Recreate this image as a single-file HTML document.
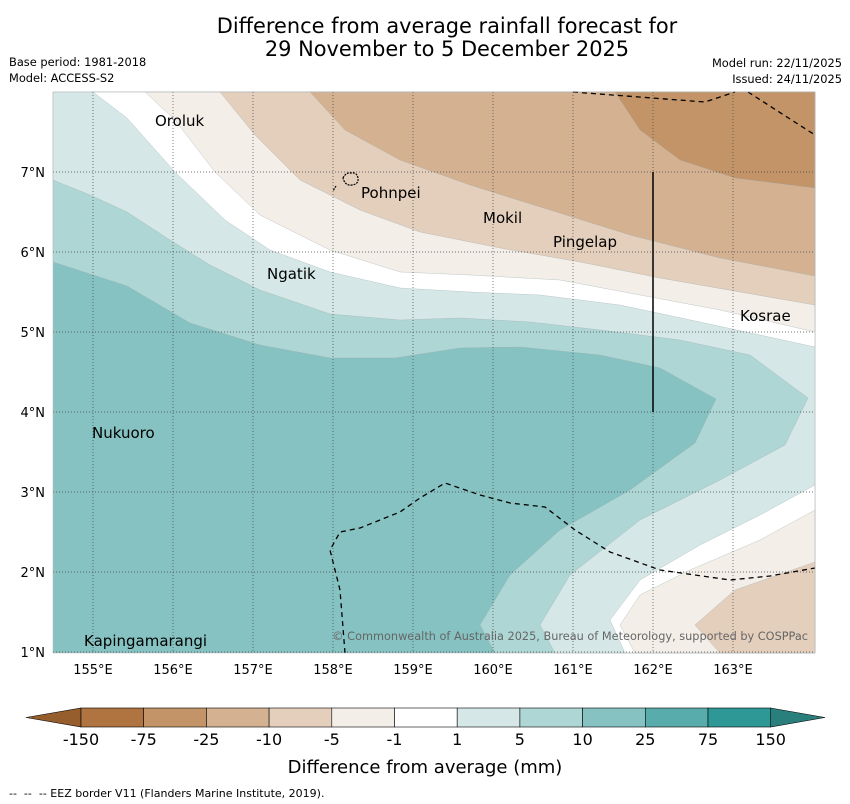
<!DOCTYPE html>
<html><head><meta charset="utf-8"><style>
body{margin:0;background:#fff;font-family:"DejaVu Sans","Liberation Sans",sans-serif;}
#wrap{position:relative;width:850px;height:804px;overflow:hidden}
</style></head><body>
<div id="wrap">
<svg id="svg" width="850" height="804" xmlns="http://www.w3.org/2000/svg" font-family="DejaVu Sans, Liberation Sans, sans-serif">
<text x="447" y="33" font-size="20.9" text-anchor="middle">Difference from average rainfall forecast for</text>
<text x="447" y="56" font-size="20.9" text-anchor="middle">29 November to 5 December 2025</text>
<text x="9" y="66" font-size="11.4">Base period: 1981-2018</text>
<text x="9" y="82" font-size="11.4">Model: ACCESS-S2</text>
<text x="842" y="67" font-size="11.4" text-anchor="end">Model run: 22/11/2025</text>
<text x="842" y="83" font-size="11.4" text-anchor="end">Issued: 24/11/2025</text>
<g id="map"></g>
<g id="cbar"></g>
<text x="425" y="773" font-size="18" text-anchor="middle">Difference from average (mm)</text>
<text x="9" y="797" font-size="11">--&#160;&#160;--&#160;&#160;-- EEZ border V11 (Flanders Marine Institute, 2019).</text>
</svg></div>
<script>
const lonTicks=[155,156,157,158,159,160,161,162,163];
const latTicks=[1,2,3,4,5,6,7];
const levelLabels=["-150","-75","-25","-10","-5","-1","1","5","10","25","75","150"];
const levelColors=["#b07440","#c29468","#d4b190","#e4cfbd","#f3eee8","#ffffff","#d5e8e7","#aed6d5","#85c2c1","#58adac","#2e9896"];
function P(arr){return arr.map(p=>[+(154.5+(p[0]-53)/80).toFixed(3),+(8-(p[1]-92)/80).toFixed(3)]);}
const c10=P([[53,262],[127,286],[190,323],[260,345],[330,358],[395,358],[460,348],[520,347],[600,355],[660,368],[716,399],[695,443],[630,490],[560,530],[510,575],[480,625],[495,653],[815,653],[815,92],[53,92]]);
const c5=P([[53,180],[90,195],[127,212],[170,240],[210,265],[260,290],[330,314],[400,320],[460,318],[530,322],[600,330],[680,340],[750,355],[808,398],[785,445],[720,480],[640,520],[570,575],[540,625],[555,653],[815,653],[815,92],[53,92]]);
const c1a=P([[93,92],[127,118],[175,172],[225,220],[270,250],[330,272],[400,288],[470,292],[540,295],[620,305],[700,322],[815,347],[815,92]]);
const c1b=P([[815,485],[760,515],[700,545],[640,580],[610,620],[625,653],[815,653]]);
const cm1a=P([[145,92],[175,120],[215,172],[260,215],[330,250],[400,272],[470,275],[560,280],[640,295],[720,310],[815,332],[815,92]]);
const cm1b=P([[815,510],[760,540],[690,570],[640,595],[620,625],[635,653],[815,653]]);
const cm5a=P([[220,92],[255,135],[300,180],[360,210],[420,232],[500,248],[580,262],[660,278],[740,292],[815,305],[815,92]]);
const cm5b=P([[815,562],[735,590],[695,625],[720,653],[815,653]]);
const cm10=P([[310,92],[345,130],[400,160],[470,185],[550,210],[630,235],[720,258],[815,276],[815,92]]);
const cm25=P([[615,92],[640,130],[680,160],[735,178],[815,188],[815,92]]);
const eezTop1=P([[573,92],[705,102],[735,92]]);
const eezTop2=P([[748,92],[815,135]]);
const eezBot=P([[345,653],[340,590],[330,550],[340,532],[360,528],[400,512],[420,498],[445,483],[480,495],[510,503],[545,507],[575,530],[610,552],[660,570],[730,580],[770,576],[815,568]]);
const islands=[["Oroluk",155.775,7.6375],["Pohnpei",158.35,6.7375],["Mokil",159.875,6.425],["Pingelap",160.75,6.125],["Ngatik",157.175,5.725],["Kosrae",163.088,5.2],["Nukuoro",154.988,3.7375],["Kapingamarangi",154.888,1.1375]];
const x0=53,x1=815,y0=92,y1=653,lon0=154.5,lat1=8;
const sx=lon=>x0+(lon-lon0)*80, sy=lat=>y0+(lat1-lat)*80;
const NS="http://www.w3.org/2000/svg";
const map=document.getElementById('map');
function mk(tag,attrs,parent){const e=document.createElementNS(NS,tag);for(const k in attrs)e.setAttribute(k,attrs[k]);(parent||map).appendChild(e);return e;}
function pts(a){return a.map(p=>sx(p[0]).toFixed(1)+','+sy(p[1]).toFixed(1)).join(' ');}
const bg=mk('rect',{x:x0,y:y0,width:x1-x0,height:y1-y0,fill:levelColors[8]});


const layers=[[c10,7,'band-5-10'],[c5,6,'band-1-5'],[c1a,5,'band-neutral'],[c1b,5,'band-neutral-se'],[cm1a,4,'band-minus5-minus1'],[cm1b,4,'band-minus5-minus1-se'],[cm5a,3,'band-minus10-minus5'],[cm5b,3,'band-minus10-minus5-se'],[cm10,2,'band-minus25-minus10'],[cm25,1,'band-minus75-minus25']];
layers.forEach(l=>{const e=mk('polygon',{points:pts(l[0]),fill:levelColors[l[1]],stroke:'#9aa',"stroke-width":0.3});

});
lonTicks.forEach(l=>{const e=mk('line',{x1:sx(l),x2:sx(l),y1:y0,y2:y1,stroke:'#444',"stroke-width":0.7,"stroke-dasharray":"1,2"});


const t=mk('text',{x:sx(l),y:674,"font-size":13,"text-anchor":"middle"});t.textContent=l+'°E';

});
latTicks.forEach(l=>{const e=mk('line',{x1:x0,x2:x1,y1:sy(l),y2:sy(l),stroke:'#444',"stroke-width":0.7,"stroke-dasharray":"1,2"});


const t=mk('text',{x:45,y:sy(l)+5,"font-size":13,"text-anchor":"end"});t.textContent=l+'°N';

});
[eezTop1,eezTop2,eezBot].forEach(a=>{const e=mk('polyline',{points:pts(a),fill:'none',stroke:'#000',"stroke-width":1.3,"stroke-dasharray":"5,4"});

});
const vl=mk('line',{x1:sx(162),x2:sx(162),y1:sy(7),y2:sy(4),stroke:'#000',"stroke-width":1.5});


const pp=mk('path',{d:`M343,178 q3,-6 8,-5 q6,-1 7,5 q1,6 -6,7 q-7,1 -9,-7 z M336,186 l-3,5`,fill:'none',stroke:'#000',"stroke-width":1.2,"stroke-dasharray":"2,1"});


islands.forEach(i=>{const t=mk('text',{x:sx(i[1]),y:sy(i[2])+5,"font-size":15});t.textContent=i[0];

});
const cp=mk('text',{x:808,y:640,"font-size":11.3,"text-anchor":"end",fill:'#666'});cp.textContent='© Commonwealth of Australia 2025, Bureau of Meteorology, supported by COSPPac';


const fr=mk('rect',{x:x0,y:y0,width:x1-x0,height:y1-y0,fill:'none',stroke:'#bbb',"stroke-width":0.5});


const cb=document.getElementById('cbar');
const cbx0=81,seg=62.7,cby=708,cbh=19;
const lt=mk('polygon',{points:`26,${cby+cbh/2} ${cbx0},${cby} ${cbx0},${cby+cbh}`,fill:'#955e2c',stroke:'#000',"stroke-width":0.6},cb);


const rx=cbx0+seg*11;
const rt=mk('polygon',{points:`${rx},${cby} ${825},${cby+cbh/2} ${rx},${cby+cbh}`,fill:'#297f7c',stroke:'#000',"stroke-width":0.6},cb);


levelColors.forEach((c,i)=>{const r=mk('rect',{x:cbx0+i*seg,y:cby,width:seg,height:cbh,fill:c,stroke:'#000',"stroke-width":0.6},cb);

});
levelLabels.forEach((s,i)=>{const t=mk('text',{x:cbx0+i*seg,y:745,"font-size":16,"text-anchor":"middle"},cb);t.textContent=s;

});
</script>
</body></html>
